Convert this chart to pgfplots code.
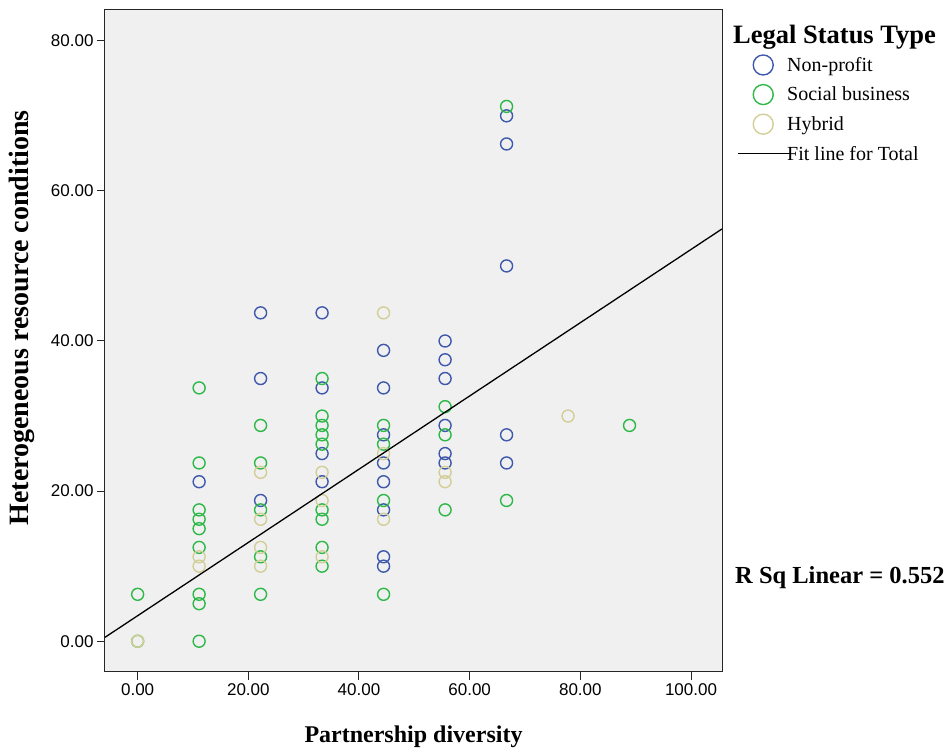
\documentclass[border=0pt]{standalone}
\usepackage{fontspec}
\setmainfont{Liberation Serif}
\newfontfamily\sansf{Liberation Sans}
\usepackage{pgfplots}
\pgfplotsset{compat=1.18}
\definecolor{npblue}{RGB}{62,88,172}
\definecolor{sbgreen}{RGB}{46,184,72}
\definecolor{hykhaki}{RGB}{211,206,151}
\definecolor{bgc}{RGB}{240,240,240}
\pgfplotsset{
  circleg/.style={legend image code/.code={\path[draw=none,fill=none] (0pt,-14.8pt) rectangle (52pt,14.8pt); \draw[##1, mark size=10pt] plot coordinates {(28pt,0pt)};}},
  lineg/.style={legend image code/.code={\path[draw=none,fill=none] (0pt,-14.8pt) rectangle (52pt,14.8pt); \draw[##1, overlay] (3pt,0pt) -- (55pt,0pt);}},
}
\begin{document}
\begin{tikzpicture}
\begin{axis}[
  name=ax,
  width=617pt, height=662pt, scale only axis,
  xmin=-5.9, xmax=105.6, ymin=-4.1, ymax=84.1,
  axis background/.style={fill=bgc},
  axis line style={black!85, line width=1pt},
  xtick={0,20,...,100}, ytick={0,20,...,80},
  tick align=outside, xtick pos=lower, ytick pos=lower,
  major tick length=8pt, tick style={black!85, line width=1pt},
  tick label style={font=\sansf\fontsize{17}{19}\selectfont},
  /pgf/number format/.cd, fixed, fixed zerofill, precision=2, assume math mode=true,
  /pgfplots/.cd,
  xlabel={Partnership diversity},
  ylabel={Heterogeneous resource conditions},
  xlabel style={font=\fontsize{24}{26}\selectfont\bfseries, at={(axis description cs:0.5,-0.0982)}, anchor=center},
  ylabel style={font=\fontsize{28}{30}\selectfont\bfseries, at={(axis description cs:-0.1345,0.535)}, anchor=center},
  clip mode=individual,
  legend style={at={(1.0211,0.9396)}, anchor=north west, draw=none, fill=none,
    font=\fontsize{20}{22}\selectfont, inner sep=0pt, nodes={inner sep=0pt}, row sep=0pt},
  legend cell align=left,
]
\addplot[only marks, mark=o, mark size=6pt, line width=1.4pt, color=npblue, circleg]
coordinates {
(11.11,21.25)
(22.22,43.75) (22.22,35) (22.22,18.75)
(33.33,43.75) (33.33,33.75) (33.33,25) (33.33,21.25)
(44.44,38.75) (44.44,33.75) (44.44,27.5) (44.44,23.75) (44.44,21.25) (44.44,17.5) (44.44,11.25) (44.44,10)
(55.56,40) (55.56,37.5) (55.56,35) (55.56,28.75) (55.56,25) (55.56,23.75)
(66.67,70) (66.67,66.25) (66.67,50) (66.67,27.5) (66.67,23.75)
};
\addlegendentry{Non-profit}
\addplot[only marks, mark=o, mark size=6pt, line width=1.4pt, color=sbgreen, circleg]
coordinates {
(0,6.25) (0,0)
(11.11,33.75) (11.11,23.75) (11.11,17.5) (11.11,16.25) (11.11,15) (11.11,12.5) (11.11,6.25) (11.11,5) (11.11,0)
(22.22,28.75) (22.22,23.75) (22.22,17.5) (22.22,11.25) (22.22,6.25)
(33.33,35) (33.33,30) (33.33,28.75) (33.33,27.5) (33.33,26.25) (33.33,17.5) (33.33,16.25) (33.33,12.5) (33.33,10)
(44.44,28.75) (44.44,26.25) (44.44,18.75) (44.44,6.25)
(55.56,31.25) (55.56,27.5) (55.56,17.5)
(66.67,71.25) (66.67,18.75)
(88.89,28.75)
};
\addlegendentry{Social business}
\addplot[only marks, mark=o, mark size=6pt, line width=1.4pt, color=hykhaki, circleg]
coordinates {
(0,0)
(11.11,11.25) (11.11,10)
(22.22,22.5) (22.22,16.25) (22.22,12.5) (22.22,10)
(33.33,22.5) (33.33,18.75) (33.33,11.25)
(44.44,43.75) (44.44,25) (44.44,16.25)
(55.56,22.5) (55.56,21.25)
(77.78,30)
};
\addlegendentry{Hybrid}
\addplot[black, line width=1.3pt, no marks, lineg]
coordinates {(-5.9,0.52) (105.6,54.93)};
\addlegendentry{Fit line for Total}
\node[anchor=west, inner sep=0pt, font=\fontsize{26.5}{28}\selectfont\bfseries] at (rel axis cs:1.0178,0.9592) {Legal Status Type};
\node[anchor=west, inner sep=0pt, font=\fontsize{24.5}{26}\selectfont\bfseries] at (rel axis cs:1.0211,0.142) {R Sq Linear = 0.552};
\end{axis}
\path ([shift={(-105pt,-78pt)}]ax.south west) rectangle ++(948pt,750pt);
\end{tikzpicture}
\end{document}
